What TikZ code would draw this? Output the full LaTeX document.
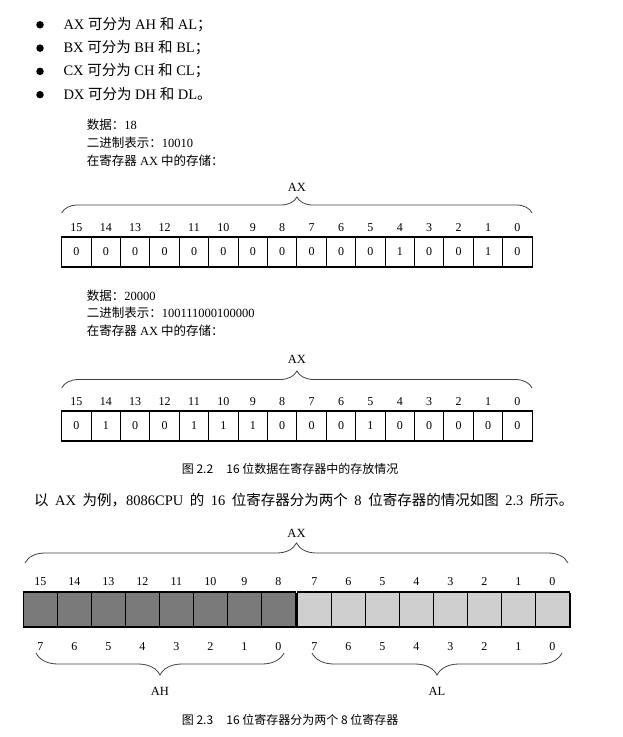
\documentclass[tikz,border=0pt]{standalone}
\usepackage{fontspec}
\setmainfont{Liberation Serif}
\newfontfamily\cjk{Noto Sans CJK SC}
\usetikzlibrary{positioning, shadows, decorations.pathreplacing, calc}

\newcommand{\zh}[1]{{\cjk #1}}
\newcommand{\wsp}{\hspace{0.45em}}

\begin{document}
\begin{tikzpicture}[x=1pt, y=-1pt,
    bodytext/.style={anchor=base west, inner sep=0pt, font=\fontsize{14.5}{17}\selectfont},
    dot/.style={circle, fill=black, minimum size=7.5pt, inner sep=0pt},
    figtext/.style={anchor=base west, inner sep=0pt, font=\fontsize{12.5}{15}\selectfont},
    bitnum/.style={inner sep=0pt, font=\fontsize{12}{14}\selectfont},
    bitcell/.style={rectangle, draw=black, line width=1.1pt, fill=white,
                    outer sep=0pt, inner sep=0pt,
                    minimum width=29.4pt, minimum height=30pt,
                    font=\fontsize{12}{14}\selectfont,
                    drop shadow={shadow xshift=1.3pt, shadow yshift=-1.3pt,
                                 opacity=1, fill=black}},
    hicell/.style={bitcell, fill=black!52, line width=1.4pt,
                   minimum width=34pt, minimum height=35pt},
    locell/.style={bitcell, fill=black!19, line width=1.4pt,
                   minimum width=34pt, minimum height=35pt},
    brace/.style={decorate, draw=black!75, line width=0.8pt},
    bracelabel/.style={inner sep=0pt, font=\fontsize{12.5}{15}\selectfont},
    captext/.style={anchor=base west, inner sep=0pt, font=\cjk\fontsize{12}{14}\selectfont}
]
\useasboundingbox (0,0) rectangle (623,737);

% bullet list
\foreach \r/\p [count=\k] in {A/；, B/；, C/；, D/。} {
  \node[dot] (b\k) at (40,{24.8+23.3*(\k-1)}) {};
  \node[bodytext] (t\k) at (63.3,{29.3+23.3*(\k-1)})
       {\r X \zh{可分为} \r H \zh{和} \r L\zh{\p}};
}

% figure 2.2, first value
\node[figtext] (d1) at (86.7,129.3) {\zh{数据：}18};
\node[figtext] (d2) at (86.7,147.3) {\zh{二进制表示：}10010};
\node[figtext] (d3) at (86.7,165.3) {\zh{在寄存器} AX \zh{中的存储：}};

\coordinate (a16) at (61.7,252);
\foreach \v [count=\k from 0, evaluate=\k as \n using int(15-\k),
             evaluate=\k as \m using int(16-\k)]
    in {0,0,0,0,0,0,0,0,0,0,0,1,0,0,1,0} {
  \node[bitcell, right=0pt of a\m] (a\n) {\v};
  \node[bitnum, above=5pt of a\n] (na\n) {\n};
}
\draw[brace, decoration={brace, amplitude=16pt}]
    ([yshift=24pt]a15.north west) -- node[bracelabel, midway, yshift=26pt] (ax1) {AX}
    ([yshift=24pt]a0.north east);

% figure 2.2, second value
\node[figtext] (e1) at (86.7,300) {\zh{数据：}20000};
\node[figtext] (e2) at (86.7,317.7) {\zh{二进制表示：}100111000100000};
\node[figtext] (e3) at (86.7,335.3) {\zh{在寄存器} AX \zh{中的存储：}};

\coordinate (c16) at (61.7,426);
\foreach \v [count=\k from 0, evaluate=\k as \n using int(15-\k),
             evaluate=\k as \m using int(16-\k)]
    in {0,1,0,0,1,1,1,0,0,0,1,0,0,0,0,0} {
  \node[bitcell, right=0pt of c\m] (c\n) {\v};
  \node[bitnum, above=5pt of c\n] (nc\n) {\n};
}
\draw[brace, decoration={brace, amplitude=17pt}]
    ([yshift=23pt]c15.north west) -- node[bracelabel, midway, yshift=29pt] (ax2) {AX}
    ([yshift=23pt]c0.north east);

\node[captext] (cap1) at (181.7,473.3) {图 2.2\hspace{1.1em}16 位数据在寄存器中的存放情况};

% paragraph
\node[bodytext] (para) at (34,505)
    {\zh{以}\wsp AX\wsp\zh{为例，}8086CPU\wsp\zh{的}\wsp 16\wsp\zh{位寄存器分为两个}\wsp 8\wsp\zh{位寄存器的情况如图}\wsp 2.3\wsp\zh{所示。}};

% figure 2.3
\coordinate (h16) at (23.3,609.5);
\coordinate (l8) at (297.3,609.5);
\foreach \n [evaluate=\n as \m using int(\n+1)] in {15,...,8} {
  \node[hicell, right=0pt of h\m] (h\n) {};
  \node[bitnum, above=6pt of h\n] (nh\n) {\n};
}
\foreach \n [evaluate=\n as \m using int(\n+1)] in {7,...,0} {
  \node[locell, right=0pt of l\m] (l\n) {};
  \node[bitnum, above=6pt of l\n] (nl\n) {\n};
}
\foreach \n [evaluate=\n as \m using int(\n-8)] in {15,...,8} {
  \node[bitnum, below=15.5pt of h\n] (bh\n) {\m};
}
\foreach \n in {7,...,0} {
  \node[bitnum, below=15.5pt of l\n] (bl\n) {\n};
}
\draw[brace, decoration={brace, amplitude=20pt}]
    ($(h15.north west)+(1.7,-29)$) -- node[bracelabel, midway, yshift=30pt] (ax3) {AX}
    ($(l0.north east)+(-1.3,-29)$);
\draw[brace, decoration={brace, amplitude=22pt}]
    ($(h8.south east)+(-11.3,26)$) -- node[bracelabel, midway, yshift=-38pt] (ah) {AH}
    ($(h15.south west)+(12.7,26)$);
\draw[brace, decoration={brace, amplitude=22pt}]
    ($(l0.south east)+(-7.3,26)$) -- node[bracelabel, midway, yshift=-38pt] (al) {AL}
    ($(l7.south west)+(14.7,26)$);

\node[captext] (cap2) at (181.7,724.5) {图 2.3\hspace{1.1em}16 位寄存器分为两个 8 位寄存器};
\end{tikzpicture}
\end{document}
